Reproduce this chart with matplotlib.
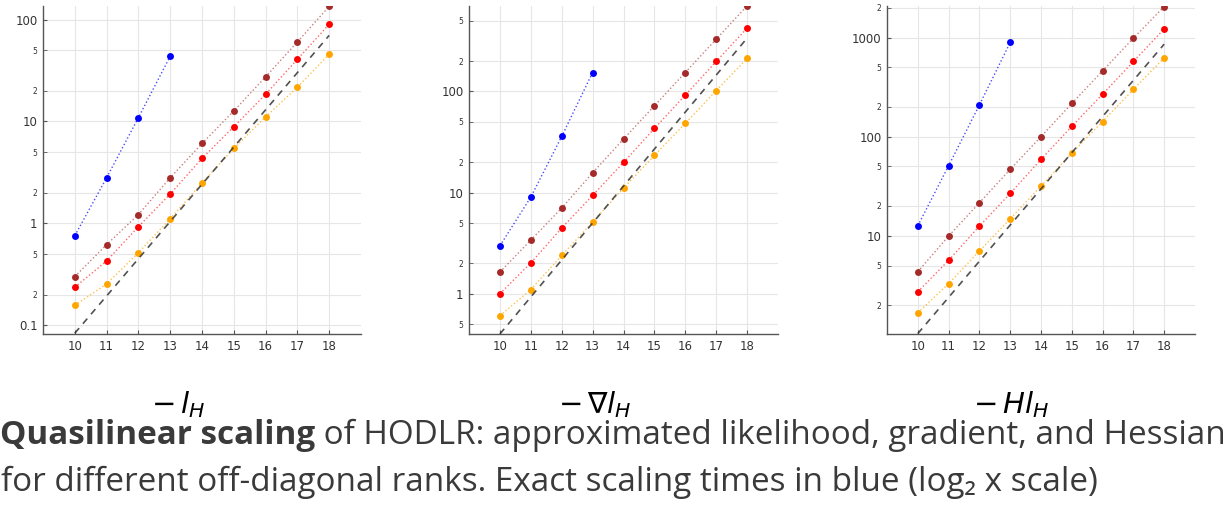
import math
import matplotlib
matplotlib.use('Agg')
import matplotlib.pyplot as plt
from matplotlib.ticker import LogLocator, FuncFormatter

# log2 of the problem size
x = [10, 11, 12, 13, 14, 15, 16, 17, 18]
x_exact = [10, 11, 12, 13]
x_ref = [10, 18]

# -l_H
lik_exact = [0.757, 2.8, 10.9, 43.7]
lik_brown = [0.30, 0.618, 1.22, 2.8, 6.08, 12.7, 27.4, 60.4, 135]
lik_red = [0.236, 0.427, 0.927, 1.94, 4.34, 8.87, 18.5, 40.8, 90]
lik_orange = [0.157, 0.254, 0.515, 1.11, 2.49, 5.43, 11.1, 21.7, 45.7]
lik_ref = [0.0835, 70]

# -grad l_H
grad_exact = [2.98, 9.02, 35.9, 154]
grad_brown = [1.64, 3.39, 7.03, 15.7, 33.8, 72.2, 154, 329, 703]
grad_red = [1.0, 2.02, 4.46, 9.38, 19.9, 43.1, 92, 198, 423]
grad_orange = [0.606, 1.10, 2.39, 5.11, 11.1, 23.3, 48.3, 102, 212]
grad_ref = [0.40, 337]

# -H l_H
hess_exact = [12.6, 50.8, 209, 891]
hess_brown = [4.34, 9.93, 21.5, 46.7, 100, 216, 461, 985, 2055]
hess_red = [2.72, 5.64, 12.5, 26.7, 58.9, 127, 268, 573, 1222]
hess_orange = [1.67, 3.28, 7.0, 14.8, 31.7, 68.2, 142, 299, 624]
hess_ref = [1.03, 857]

labels = [r'$-\,l_H$', r'$-\,\nabla l_H$', r'$-\,Hl_H$']
caption_bold = 'Quasilinear scaling'
caption_rest = ' of HODLR: approximated likelihood, gradient, and Hessian'
caption_line2 = 'for different off-diagonal ranks. Exact scaling times in blue (log\u2082 x scale)'

W, H = 1227, 505
fig = plt.figure(figsize=(W / 100, H / 100), dpi=100)

# pixel boxes of the three panels: left, right, top, bottom
boxes = [(43, 361, 6, 334), (469, 778, 6, 334), (887, 1195, 6, 334)]
ylims = [(0.082, 136), (0.40, 700), (1.02, 2080)]
panels = [
    (lik_exact, lik_brown, lik_red, lik_orange, lik_ref),
    (grad_exact, grad_brown, grad_red, grad_orange, grad_ref),
    (hess_exact, hess_brown, hess_red, hess_orange, hess_ref),
]


def major_fmt(v, pos):
    return '%g' % v


def minor_fmt(v, pos):
    d = v / 10 ** math.floor(math.log10(v) + 1e-9)
    return '%d' % round(d)


for (l, r, t, b), yl, (ex, br, rd, og, ref) in zip(boxes, ylims, panels):
    ax = fig.add_axes([l / W, 1 - b / H, (r - l) / W, (b - t) / H])
    ax.set_yscale('log')
    ax.plot(x_exact, ex, ':', color='blue', lw=1, alpha=0.7)
    ax.plot(x_exact, ex, 'o', color='blue', ms=5, mew=0)
    ax.plot(x, br, ':', color='brown', lw=1, alpha=0.6)
    ax.plot(x, br, 'o', color='brown', ms=5, mew=0)
    ax.plot(x, rd, ':', color='red', lw=1, alpha=0.6)
    ax.plot(x, rd, 'o', color='red', ms=5, mew=0)
    ax.plot(x, og, ':', color='orange', lw=1, alpha=0.7)
    ax.plot(x, og, 'o', color='orange', ms=5, mew=0)
    ax.plot(x_ref, ref, color='#333333', lw=1.2, dashes=(4, 3.5), alpha=0.85)

    ax.set_xlim(9, 19)
    ax.set_ylim(*yl)
    ax.set_xticks(x)
    ax.yaxis.set_major_locator(LogLocator(base=10))
    ax.yaxis.set_minor_locator(LogLocator(base=10, subs=(2, 5)))
    ax.yaxis.set_major_formatter(FuncFormatter(major_fmt))
    ax.yaxis.set_minor_formatter(FuncFormatter(minor_fmt))
    ax.grid(True, which='both', color='#e6e6e6', lw=0.8)
    ax.set_axisbelow(True)
    for s in ['top', 'right']:
        ax.spines[s].set_visible(False)
    for s in ['left', 'bottom']:
        ax.spines[s].set_color('#555555')
        ax.spines[s].set_linewidth(1)
    ax.tick_params(which='both', direction='in', length=3, color='#555555',
                   labelcolor='#333333', pad=4)
    ax.tick_params(axis='x', labelsize=8.5)
    ax.tick_params(axis='y', which='major', labelsize=8.5)
    ax.tick_params(axis='y', which='minor', labelsize=5.5)
    ax.tick_params(axis='x', which='minor', length=0)

label_x = [178, 595, 1011]
for lx, lab in zip(label_x, labels):
    fig.text(lx / W, (H - 413) / H, lab, fontsize=21, ha='center', va='baseline')

fam = ['Open Sans', 'DejaVu Sans']
col = '#3a3a3a'


def place_caption(size):
    t1 = fig.text(0 / W, (H - 444) / H, caption_bold, fontsize=size, fontweight='bold',
                  family=fam, color=col, va='baseline')
    fig.canvas.draw()
    rend = fig.canvas.get_renderer()
    w1 = t1.get_window_extent(rend).width
    t2 = fig.text(w1 / W, (H - 444) / H, caption_rest, fontsize=size,
                  family=fam, color=col, va='baseline')
    t3 = fig.text(1 / W, (H - 491) / H, caption_line2, fontsize=size,
                  family=fam, color=col, va='baseline')
    fig.canvas.draw()
    total = t2.get_window_extent(rend).x1
    return t1, t2, t3, total


t1, t2, t3, total = place_caption(20)
new_size = 20 * 1222 / total
for t in (t1, t2, t3):
    t.remove()
place_caption(new_size)

fig.savefig('out.png', dpi=100)
